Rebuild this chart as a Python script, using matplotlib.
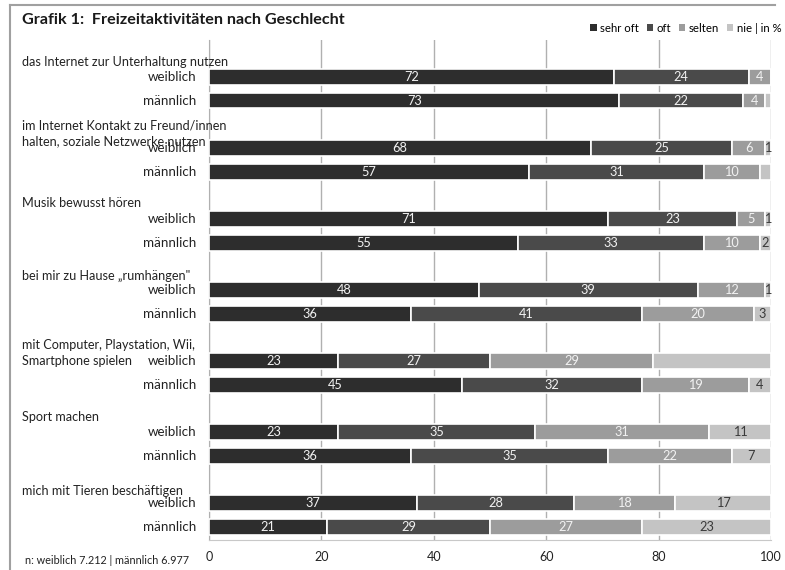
import numpy as np
import matplotlib.pyplot as plt
from matplotlib.patches import Patch
from matplotlib.lines import Line2D

plt.rcParams['font.family'] = ['Lato', 'DejaVu Sans']

# Daten (in %), je Aktivität: weiblich, männlich
activities = [
    "das Internet zur Unterhaltung nutzen",
    "im Internet Kontakt zu Freund/innen\nhalten, soziale Netzwerke nutzen",
    "Musik bewusst hören",
    "bei mir zu Hause \u201erumhängen\"",
    "mit Computer, Playstation, Wii,\nSmartphone spielen",
    "Sport machen",
    "mich mit Tieren beschäftigen",
]
groups = ["weiblich", "männlich"]
levels = ["sehr oft", "oft", "selten", "nie | in %"]
sehr_oft = [72, 73, 68, 57, 71, 55, 48, 36, 23, 45, 23, 36, 37, 21]
oft = [24, 22, 25, 31, 23, 33, 39, 41, 27, 32, 35, 35, 28, 29]
selten = [4, 4, 6, 10, 5, 10, 12, 20, 29, 19, 31, 22, 18, 27]
nie = [0, 1, 1, 2, 1, 2, 1, 3, 21, 4, 11, 7, 17, 23]
# "nie"-Werte, die in der Vorlage nicht beschriftet sind
nie_unlabeled = [1, 3, 8]
note = "n: weiblich 7.212 | männlich 6.977"

colors = ["#2d2d2d", "#4a4a4a", "#9c9c9c", "#c4c4c4"]
text_colors = ["#f2f2f2", "#f2f2f2", "#f2f2f2", "#3a3a3a"]

W, H = 785, 570
fig = plt.figure(figsize=(W / 100, H / 100), dpi=100)
ax = fig.add_axes([209 / W, 30 / H, 562 / W, 500 / H])

px = 23.7  # pixels per y unit
n_rows = len(sehr_oft)
ypos = np.array([3 * (r // 2) + r % 2 for r in range(n_rows)], dtype=float)

series = [sehr_oft, oft, selten, nie]
left = np.zeros(n_rows)
for k, vals in enumerate(series):
    vals = np.array(vals, dtype=float)
    ax.barh(ypos, vals, left=left, height=0.66, color=colors[k],
            edgecolor="white", linewidth=1.2, zorder=3)
    for r in range(n_rows):
        v = vals[r]
        if v <= 0 or (k == 3 and r in nie_unlabeled):
            continue
        ax.text(left[r] + v / 2, ypos[r], f"{int(v)}", ha="center", va="center",
                fontsize=9.2, color=text_colors[k], zorder=4)
    left += vals

# Zeilenbeschriftungen
for r in range(n_rows):
    ax.text(-2.2, ypos[r], groups[r % 2], ha="right", va="center",
            fontsize=9.6, color="#222222")

# Kategorietitel (Versatz in Pixeln über dem Balken "weiblich")
label_offsets = [-15, -14.5, -16, -14, -8, -15, -12]
for g, name in enumerate(activities):
    ax.text((22 - 209) / 5.62, 3 * g + label_offsets[g] / px, name,
            ha="left", va="center", fontsize=9.1, color="#222222",
            linespacing=1.35)

ax.set_xlim(0, 100)
ax.set_ylim(19.55, -1.56)
ax.set_xticks([0, 20, 40, 60, 80, 100])
ax.set_yticks([])
ax.tick_params(axis="x", length=0, pad=8, labelsize=9, labelcolor="#222222")
ax.grid(axis="x", color="#b0b0b0", linewidth=1, zorder=0)
for s in ["top", "right"]:
    ax.spines[s].set_visible(False)
ax.spines["left"].set_color("#b0b0b0")
ax.spines["bottom"].set_color("#c8c8c8")

# Titel, Legende, Fußnote
fig.text(22 / W, 1 - 20 / H, "Grafik 1:  Freizeitaktivitäten nach Geschlecht",
         fontsize=11.6, fontweight="bold", va="center", color="#1a1a1a")
handles = [Patch(facecolor=c) for c in colors]
fig.legend(handles, levels, loc="center right", bbox_to_anchor=(1.004, 1 - 28 / H),
           ncol=4, frameon=False, fontsize=8.2, handlelength=0.55,
           handleheight=0.55, handletextpad=0.3, columnspacing=0.7,
           borderaxespad=0.2)
fig.text(25 / W, 1 - 561 / H, note, fontsize=7.8, va="center", color="#222222")

# Rahmen links und oben
fig.add_artist(Line2D([10 / W, 10 / W], [0, 1 - 5 / H], transform=fig.transFigure,
                      color="#a0a0a0", linewidth=1.5))
fig.add_artist(Line2D([10 / W, 775 / W], [1 - 5 / H, 1 - 5 / H],
                      transform=fig.transFigure, color="#a0a0a0", linewidth=1.5))

fig.savefig("out.png", dpi=100)
